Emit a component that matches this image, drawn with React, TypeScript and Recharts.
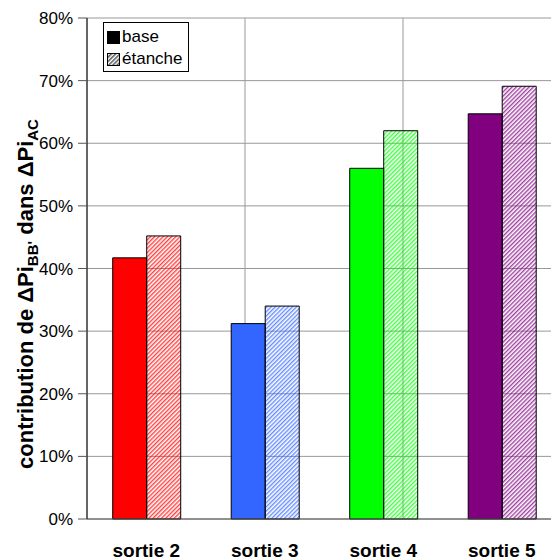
import React from "react";
import {
  BarChart,
  Bar,
  XAxis,
  YAxis,
  CartesianGrid,
  Legend,
  Cell,
} from "recharts";

const categories = ["sortie 2", "sortie 3", "sortie 4", "sortie 5"];
const baseValues = [41.7, 31.2, 56.0, 64.7];
const etancheValues = [45.2, 34.0, 62.0, 69.1];
const colors = ["#FF0000", "#3366FF", "#00FF00", "#800080"];
const yTicks = [0, 10, 20, 30, 40, 50, 60, 70, 80];
const edgeTicks = [0, 1, 2, 3, 4];

const data = categories.map((name, i) => ({
  name,
  base: baseValues[i],
  etanche: etancheValues[i],
}));

const FONT = '"Liberation Sans", Arial, sans-serif';

const renderLegend = () => (
  <div
    style={{
      border: "1px solid #000",
      background: "#fff",
      width: 86,
      height: 50,
      boxSizing: "border-box",
      fontFamily: FONT,
      fontSize: 17,
      color: "#000",
      padding: "3px 0 0 3px",
      lineHeight: "22px",
    }}
  >
    <div style={{ display: "flex", alignItems: "center" }}>
      <svg width={13} height={13} style={{ marginRight: 2 }}>
        <rect x={0.5} y={0.5} width={12} height={12} fill="#000" stroke="#000" />
      </svg>
      base
    </div>
    <div style={{ display: "flex", alignItems: "center" }}>
      <svg width={13} height={13} style={{ marginRight: 2 }}>
        <defs>
          <pattern id="hatch-legend" patternUnits="userSpaceOnUse" width={3} height={3} patternTransform="rotate(45)">
            <rect x={0} y={0} width={1.5} height={3} fill="#555" />
          </pattern>
        </defs>
        <rect x={0.5} y={0.5} width={12} height={12} fill="#fff" stroke="#000" />
        <rect x={0.5} y={0.5} width={12} height={12} fill="url(#hatch-legend)" stroke="#000" />
      </svg>
      étanche
    </div>
  </div>
);

const renderYLabel = () => (
  <text
    transform="translate(33,294) rotate(-90)"
    textAnchor="middle"
    fontFamily={FONT}
    fontWeight="bold"
    fontSize={22}
    fill="#000"
  >
    contribution de ΔPi
    <tspan fontSize={15} dy={5}>BB'</tspan>
    <tspan dy={-5}> dans ΔPi</tspan>
    <tspan fontSize={15} dy={5}>AC</tspan>
  </text>
);

const emptyTick = () => <g />;

export default function App() {
  return (
    <div
      style={{
        position: "fixed",
        left: 0,
        top: 0,
        width: 551,
        height: 560,
        overflow: "hidden",
        background: "#fff",
      }}
    >
      <BarChart
        width={566}
        height={560}
        data={data}
        margin={{ top: 18, right: 5, bottom: 0, left: 0 }}
        barCategoryGap="21.7%"
        barGap={0}
      >
        <defs>
          {colors.map((c, i) => (
            <pattern
              key={i}
              id={`hatch-${i}`}
              patternUnits="userSpaceOnUse"
              width={3}
              height={3}
              patternTransform="rotate(45)"
            >
              <rect x={0} y={0} width={1.4} height={3} fill={c} fillOpacity={0.75} />
            </pattern>
          ))}
        </defs>
        <XAxis
          xAxisId="edge"
          type="number"
          domain={[0, 4]}
          allowDataOverflow
          ticks={edgeTicks}
          interval={0}
          tick={emptyTick}
          tickSize={7}
          tickLine={{ stroke: "#333" }}
          axisLine={false}
          height={0}
        />
        <XAxis
          xAxisId="cat"
          dataKey="name"
          height={41}
          tickLine={false}
          tickSize={0}
          tickMargin={25}
          axisLine={{ stroke: "#555" }}
          tick={{ fill: "#000", fontSize: 19, fontWeight: "bold", fontFamily: FONT }}
        />
        <YAxis
          width={87}
          domain={[0, 80]}
          ticks={yTicks}
          tickFormatter={(v) => `${v}%`}
          tickSize={9}
          tickMargin={5}
          tickLine={{ stroke: "#555" }}
          axisLine={{ stroke: "#000" }}
          tick={{ fill: "#000", fontSize: 17, fontFamily: FONT }}
          label={{ content: renderYLabel }}
        />
        <CartesianGrid xAxisId="edge" stroke="#999" strokeWidth={1} vertical horizontal />
        <Legend
          content={renderLegend}
          verticalAlign="middle"
          align="center"
          wrapperStyle={{ position: "absolute", left: 103, top: 22, width: "auto" }}
        />
        <Bar xAxisId="cat" dataKey="base" name="base" stroke="#000" strokeWidth={1} isAnimationActive={false}>
          {data.map((_, i) => (
            <Cell key={i} fill={colors[i]} />
          ))}
        </Bar>
        <Bar xAxisId="cat" dataKey="etanche" name="étanche" stroke="#000" strokeWidth={1} isAnimationActive={false}>
          {data.map((_, i) => (
            <Cell key={i} fill={`url(#hatch-${i})`} />
          ))}
        </Bar>
      </BarChart>
    </div>
  );
}
